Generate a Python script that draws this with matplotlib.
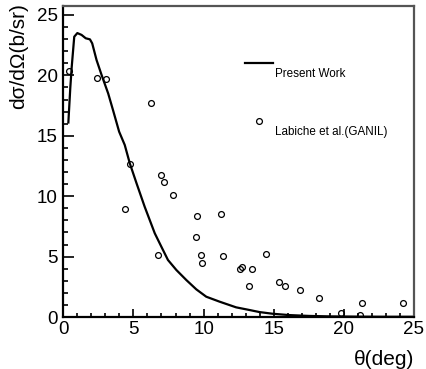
import numpy as np
import matplotlib
matplotlib.use('Agg')
import matplotlib.pyplot as plt
from matplotlib.ticker import MultipleLocator
from matplotlib.legend_handler import HandlerLine2D

plt.rcParams['font.family'] = ['Liberation Sans', 'DejaVu Sans']

# calculated curve (Present Work)
theta_calc = [0.36, 0.5, 0.6, 0.78, 1.0, 1.3, 1.6, 1.9, 2.06, 2.37, 2.73, 3.2, 3.55,
              3.98, 4.38, 4.74, 5.22, 5.8, 6.16, 6.52, 6.99, 7.46, 8.06, 8.77,
              9.48, 10.19, 11.14, 12.32, 13.27, 13.98, 14.92, 16.1, 17.5, 19.0,
              21.0, 23.0, 25.0]
xs_calc = [16.1, 19.0, 20.7, 23.2, 23.5, 23.35, 23.07, 22.98, 22.65, 21.27, 20.03,
           18.5, 17.1, 15.34, 14.24, 12.72, 11.07, 9.13, 8.03, 6.93, 5.82, 4.72,
           3.89, 3.06, 2.29, 1.68, 1.27, 0.80, 0.58, 0.41, 0.27, 0.16, 0.09,
           0.05, 0.03, 0.02, 0.02]

# measured data (Labiche et al., GANIL)
theta_exp = [0.43, 2.42, 3.03, 6.23, 4.76, 6.99, 7.2, 4.38, 7.82, 6.73, 9.55, 9.43,
             9.81, 9.88, 11.23, 11.37, 12.63, 12.72, 13.43, 13.25, 14.43, 15.4,
             15.8, 16.87, 18.22, 19.83, 21.32, 21.18, 24.24]
xs_exp = [20.4, 19.76, 19.67, 17.7, 12.64, 11.75, 11.15, 8.9, 10.12, 5.1, 8.36, 6.65,
          5.1, 4.44, 8.5, 5.02, 3.95, 4.14, 3.95, 2.54, 5.24, 2.87, 2.54, 2.21,
          1.57, 0.36, 1.13, 0.14, 1.13]


class RaisedHandler(HandlerLine2D):
    # ROOT-style legend: key sits a little above its label
    def create_artists(self, legend, orig_handle, xdescent, ydescent, width,
                       height, fontsize, trans):
        return super().create_artists(legend, orig_handle, xdescent, ydescent - 14,
                                      width, height, fontsize, trans)


fig = plt.figure(figsize=(4.26, 3.69), dpi=100)
ax = fig.add_axes([0.1486, 0.1409, 0.8232, 0.8428])

line, = ax.plot(theta_calc, xs_calc, color='black', lw=1.6, label='Present Work')
pts, = ax.plot(theta_exp, xs_exp, ls='none', marker='o', ms=4.2, mfc='none',
               mec='black', mew=0.9, label='Labiche et al.(GANIL)')

ax.set_xlim(0, 25)
ax.set_ylim(0, 25.74)
ax.xaxis.set_major_locator(MultipleLocator(5))
ax.xaxis.set_minor_locator(MultipleLocator(1))
ax.yaxis.set_major_locator(MultipleLocator(5))
ax.yaxis.set_minor_locator(MultipleLocator(1))
ax.tick_params(which='both', direction='in', top=False, right=False, labelsize=13.5,
               width=1.2, color='black')
ax.tick_params(axis='x', which='major', length=6, pad=3.2)
ax.tick_params(axis='x', which='minor', length=3)
ax.tick_params(axis='y', which='major', length=7.7, pad=4)
ax.tick_params(axis='y', which='minor', length=3.6)

for s in ['left', 'bottom']:
    ax.spines[s].set_linewidth(1.6)
    ax.spines[s].set_color('black')
for s in ['top', 'right']:
    ax.spines[s].set_linewidth(1.6)
    ax.spines[s].set_color('#555555')

ax.set_ylabel('dσ/dΩ(b/sr)', fontsize=15, loc='top')
ax.yaxis.set_label_coords(-0.10, 1.01)
ax.set_xlabel('θ(deg)', fontsize=15, loc='right')
ax.xaxis.set_label_coords(1.0, -0.105)

leg = ax.legend(handles=[line, pts], loc='upper left', bbox_to_anchor=(0.518, 0.8),
                frameon=False, fontsize=8.4, handlelength=2.4, handletextpad=0.2,
                labelspacing=3.95, numpoints=1, borderpad=0, borderaxespad=0,
                handler_map={line: RaisedHandler(), pts: RaisedHandler()})

fig.savefig('out.png', dpi=100)
